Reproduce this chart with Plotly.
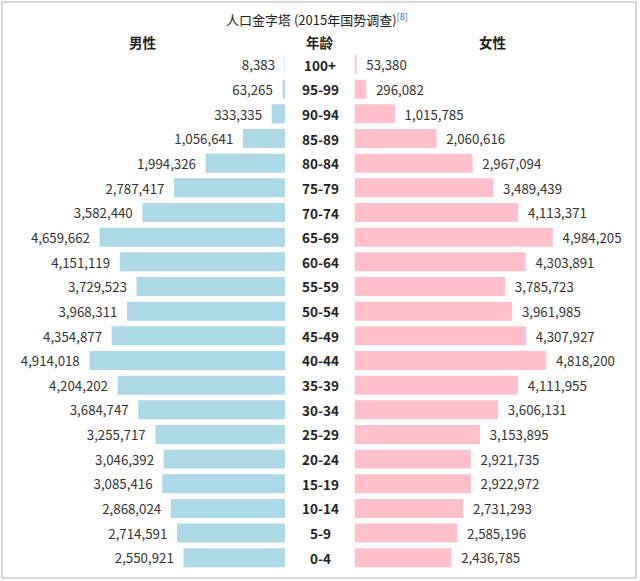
import plotly.graph_objects as go

ages = ["0-4", "5-9", "10-14", "15-19", "20-24", "25-29", "30-34", "35-39", "40-44",
        "45-49", "50-54", "55-59", "60-64", "65-69", "70-74", "75-79", "80-84",
        "85-89", "90-94", "95-99", "100+"]
male = [2550921, 2714591, 2868024, 3085416, 3046392, 3255717, 3684747, 4204202, 4914018,
        4354877, 3968311, 3729523, 4151119, 4659662, 3582440, 2787417, 1994326,
        1056641, 333335, 63265, 8383]
female = [2436785, 2585196, 2731293, 2922972, 2921735, 3153895, 3606131, 4111955, 4818200,
          4307927, 3961985, 3785723, 4303891, 4984205, 4113371, 3489439, 2967094,
          2060616, 1015785, 296082, 53380]

title_text = "人口金字塔 (2015年国势调查)"
header_male = "男性"
header_age = "年龄"
header_female = "女性"

W, H = 640, 581
FONT = "Noto Sans CJK SC"
px_per_unit = 39.8e-6
left_end = 285.0
right_start = 354.5
SP = "\u2002"

fig = go.Figure()
fig.add_trace(go.Bar(
    y=ages, x=male, orientation="h", xaxis="x", yaxis="y",
    marker=dict(color="#ADD8E6", line=dict(width=0)),
    texttemplate="%{x:,d}" + SP, textposition="outside", cliponaxis=False,
    textfont=dict(family=FONT, size=14, color="#333333"),
    hoverinfo="skip", showlegend=False,
))
fig.add_trace(go.Bar(
    y=ages, x=female, orientation="h", xaxis="x2", yaxis="y",
    marker=dict(color="#FFC0CB", line=dict(width=0)),
    texttemplate=SP + "%{x:,d}", textposition="outside", cliponaxis=False,
    textfont=dict(family=FONT, size=14, color="#333333"),
    hoverinfo="skip", showlegend=False,
))

annotations = []
for a in ages:
    annotations.append(dict(
        x=0.5, xref="paper", y=a, yref="y", text="<b>%s</b>" % a, showarrow=False,
        font=dict(family=FONT, size=13.5, color="#222222"), xanchor="center", yanchor="middle",
    ))
annotations.append(dict(
    x=317 / W, xref="paper", y=1 - 19 / H, yref="paper",
    text=title_text + "<span style='color:#3366cc'><sup>[8]</sup></span>",
    showarrow=False, font=dict(family=FONT, size=13, color="#222222"),
    xanchor="center", yanchor="middle",
))
for txt, xp in [(header_male, 143), (header_age, 320), (header_female, 493)]:
    annotations.append(dict(
        x=xp / W, xref="paper", y=1 - 42 / H, yref="paper", text="<b>%s</b>" % txt,
        showarrow=False, font=dict(family=FONT, size=13.5, color="#222222"),
        xanchor="center", yanchor="middle",
    ))

fig.update_layout(
    width=W, height=H,
    margin=dict(l=0, r=0, t=0, b=0),
    paper_bgcolor="white", plot_bgcolor="white",
    bargap=0.23,
    xaxis=dict(domain=[0, left_end / W], range=[left_end / px_per_unit, 0],
               visible=False, fixedrange=True),
    xaxis2=dict(domain=[right_start / W, 1], range=[0, (W - right_start) / px_per_unit],
                visible=False, fixedrange=True, anchor="y"),
    yaxis=dict(domain=[1 - 570.1 / H, 1 - 52.2 / H], range=[-0.5, 20.5],
               categoryorder="array", categoryarray=ages, visible=False, fixedrange=True),
    annotations=annotations,
    shapes=[dict(type="rect", xref="paper", yref="paper",
                 x0=2 / W, x1=636 / W, y0=1 - 578 / H, y1=1 - 2 / H,
                 line=dict(color="#cccccc", width=1.5))],
)

fig.write_html(
    "out.html",
    config={"displayModeBar": False, "staticPlot": True},
    post_script="document.body.style.margin='0';document.body.style.overflow='hidden';",
)
